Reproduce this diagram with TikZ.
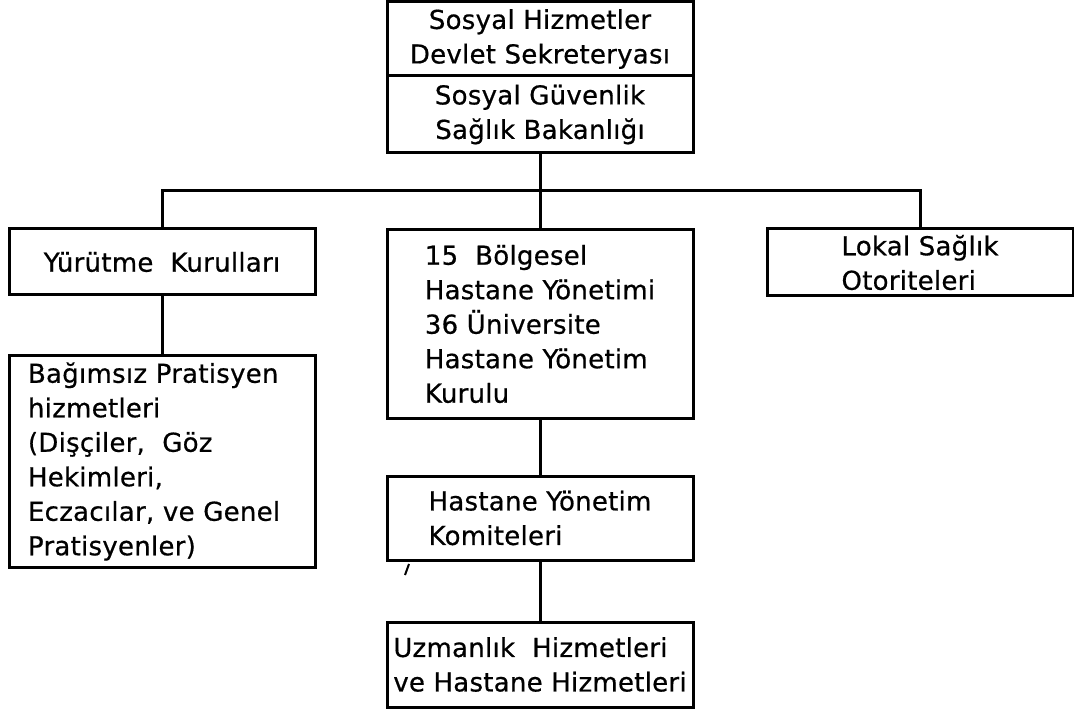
\documentclass[tikz,border=0pt]{standalone}
\usepackage{fontspec}
\setmainfont[FakeBold=0.6,LetterSpace=1]{DejaVu Sans}
\usepackage{tikz}
\usetikzlibrary{positioning}
\tikzset{kutu/.style={draw,line width=3pt,outer sep=0pt,minimum width=306pt,inner ysep=1pt,align=center,font=\fontsize{26}{34.5}\selectfont},
	 solkutu/.style={kutu,align=left},
	 node distance = 76pt
	 }

\begin{document}
\begin{tikzpicture}[x=1pt,y=-1pt,line width=3pt] % sosyal hizmetler orgut semasi
	\useasboundingbox (0,0) rectangle (1074,711);
	\node[kutu,minimum height=74pt] (sek) at (540,39) {Sosyal Hizmetler\\Devlet Sekreteryası};
	\node[kutu,minimum height=77pt] (bak) [below=0pt of sek] {Sosyal Güvenlik\\Sağlık Bakanlığı};
	\coordinate[below=38pt of bak] (bus);
	\node[kutu,minimum height=66pt] (yurutme) [below left=76pt and 72pt of bak] {Yürütme\ \ Kurulları};
	\node[solkutu,minimum height=188pt] (bolge) [below=77pt of bak] {15\ \ Bölgesel\\Hastane Yönetimi\\36 Üniversite\\Hastane Yönetim\\Kurulu};
	\node[solkutu,minimum height=67pt] (lokal) [below right=76pt and 74pt of bak] {Lokal Sağlık\\Otoriteleri};
	\node[solkutu,minimum height=211pt,inner xsep=19pt,text width=268pt] (pratisyen) [below=61pt of yurutme] {Bağımsız Pratisyen\\hizmetleri\\(Dişçiler,\ \ Göz\\Hekimleri,\\Eczacılar, ve Genel\\Pratisyenler)};
	\node[solkutu,minimum height=84pt] (komite) [below=58pt of bolge] {Hastane Yönetim\\Komiteleri};
	\node[solkutu,minimum height=85pt] (uzman) [below=62pt of komite] {Uzmanlık\ \ Hizmetleri\\ve Hastane Hizmetleri};
	\draw (bak) -- (bolge);
	\draw (yurutme) |- (bus) -| (lokal);
	\draw (yurutme) -- (pratisyen);
	\draw (bolge) -- (komite) -- (uzman);
	\draw[line width=2pt] ([xshift=18pt,yshift=-15pt]komite.south west) -- ([xshift=22pt,yshift=-4pt]komite.south west);
\end{tikzpicture}
\end{document}
